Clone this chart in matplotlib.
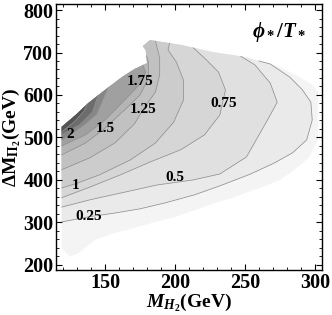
import numpy as np
import matplotlib
matplotlib.use("Agg")
import matplotlib.pyplot as plt
from matplotlib.ticker import MultipleLocator

plt.rcParams['font.family'] = ['Liberation Serif', 'DejaVu Serif']
plt.rcParams['font.weight'] = 'bold'
plt.rcParams['mathtext.fontset'] = 'custom'
plt.rcParams['mathtext.rm'] = 'Liberation Serif:bold'
plt.rcParams['mathtext.it'] = 'Liberation Serif:bold:italic'
plt.rcParams['mathtext.bf'] = 'Liberation Serif:bold'

# outline of the region where phi/T is defined (clockwise from the top of the left edge)
edge_x = [119, 129, 138, 150, 162, 171, 180, 179, 177, 182, 204, 227, 251, 275, 289, 298, 302,
          302, 296, 287, 275, 263, 254, 243, 229, 214, 200, 186, 171, 157, 143, 131, 125, 119, 119]
edge_y = [525, 553, 581, 612, 642, 661, 675, 706, 715, 729, 718, 701, 689, 666, 642, 624, 607,
          494, 454, 428, 400, 384, 374, 360, 346, 329, 313, 301, 287, 275, 259, 228, 219, 240, 294]

# contour lines: level -> (x, y)
levels = [0.25, 0.5, 0.75, 1.0, 1.25, 1.5, 1.75, 2.0, 2.25, 2.5]
line_x = {
    0.25: [119, 138, 157, 175, 193, 214, 232, 254, 271, 284, 294, 298, 297, 291, 282, 268, 260],
    0.5: [119, 139, 161, 187, 213, 232, 251, 266, 273, 268, 257, 247],
    0.75: [119, 139, 161, 182, 204, 221, 232, 236, 231, 222, 213],
    1.0: [119, 129, 146, 168, 186, 199, 206, 206, 201, 195, 196],
    1.25: [119, 139, 157, 171, 177, 186, 189, 189, 186],
    1.5: [119, 136, 150, 164, 175, 181, 181, 179.6],
    1.75: [119, 136, 150, 164, 175, 179, 177],
    2.0: [119, 125, 136, 144, 146, 152],
    2.25: [119, 132, 141, 145],
    2.5: [119, 128, 135, 137],
}
line_y = {
    0.25: [301, 313, 322, 332, 346, 365, 386, 414, 440, 464, 494, 541, 583, 612, 642, 673, 680],
    0.5: [336, 353, 369, 388, 400, 414, 454, 541, 583, 628, 671, 691],
    0.75: [358, 383, 412, 442, 471, 506, 553, 612, 654, 684, 711],
    1.0: [381, 391, 412, 447, 487, 536, 588, 635, 677, 706, 722],
    1.25: [424, 452, 487, 532, 565, 607, 647, 687, 727],
    1.5: [459, 487, 522, 565, 600, 640, 678, 692],
    1.75: [480, 506, 541, 588, 626, 654, 670],
    2.0: [494, 506, 532, 555, 570, 617],
    2.25: [506, 530, 560, 599],
    2.5: [513, 537, 562, 578],
}
band_colors = ['#f4f4f4', '#eaeaea', '#e0e0e0', '#d6d6d6', '#cccccc', '#c1c1c1',
               '#b5b5b5', '#a0a0a0', '#868686', '#6c6c6c', '#545454']

label_text = ['2', '1.75', '1.5', '1.25', '1', '0.75', '0.5', '0.25']
label_x = [125, 175, 150, 177, 128.6, 235, 200, 138]
label_y = [506, 631, 522, 565, 386, 581, 405, 314]


def seg_index(px, py):
    # which piece of the outline the end of a contour line lies on
    best, bi = 1e9, 0
    for i in range(len(edge_x) - 1):
        ax_, ay_ = edge_x[i], edge_y[i]
        bx_, by_ = edge_x[i + 1], edge_y[i + 1]
        dx, dy = bx_ - ax_, by_ - ay_
        t = ((px - ax_) * dx + (py - ay_) * dy) / (dx * dx + dy * dy)
        t = min(max(t, 0), 1)
        d = np.hypot(ax_ + t * dx - px, ay_ + t * dy - py)
        if d < best:
            best, bi = d, i
    return bi


fig = plt.figure(figsize=(3.32, 3.15), dpi=100)
ax = fig.add_axes([0.169, 0.143, 0.801, 0.844])

ax.fill(edge_x, edge_y, color=band_colors[0], lw=0)
for k, lev in enumerate(levels):
    xs, ys = line_x[lev], line_y[lev]
    i = seg_index(xs[-1], ys[-1])
    px = list(xs) + edge_x[i::-1]
    py = list(ys) + edge_y[i::-1]
    ax.fill(px, py, color=band_colors[k + 1], lw=0)
for lev in levels:
    ax.plot(line_x[lev], line_y[lev], color='#909090', lw=0.55)

for t, x, y in zip(label_text, label_x, label_y):
    ax.text(x, y, t, fontsize=11, fontweight='bold', ha='center', va='center')

ax.text(0.94, 0.895, r'$\phi_*/T_*$', transform=ax.transAxes, fontsize=15,
        ha='right', va='center')

ax.set_xlim(115, 305)
ax.set_ylim(188, 814)
ax.xaxis.set_major_locator(MultipleLocator(50))
ax.xaxis.set_minor_locator(MultipleLocator(10))
ax.yaxis.set_major_locator(MultipleLocator(100))
ax.yaxis.set_minor_locator(MultipleLocator(20))
ax.tick_params(which='both', direction='in', top=True, right=True, labelsize=14.5, pad=2)
ax.tick_params(which='major', length=4, width=0.8)
ax.tick_params(which='minor', length=2, width=0.6)
for lab in ax.get_xticklabels() + ax.get_yticklabels():
    lab.set_fontweight('bold')
for s in ax.spines.values():
    s.set_linewidth(1.0)

ax.set_xlabel(r'$M_{H_2}$(GeV)', fontsize=14, fontweight='bold', labelpad=-1)
ax.set_ylabel(r'$\Delta\mathrm{M}_{\Pi_2}$(GeV)', fontsize=14, fontweight='bold', labelpad=0)

fig.savefig('out.png', dpi=100)
